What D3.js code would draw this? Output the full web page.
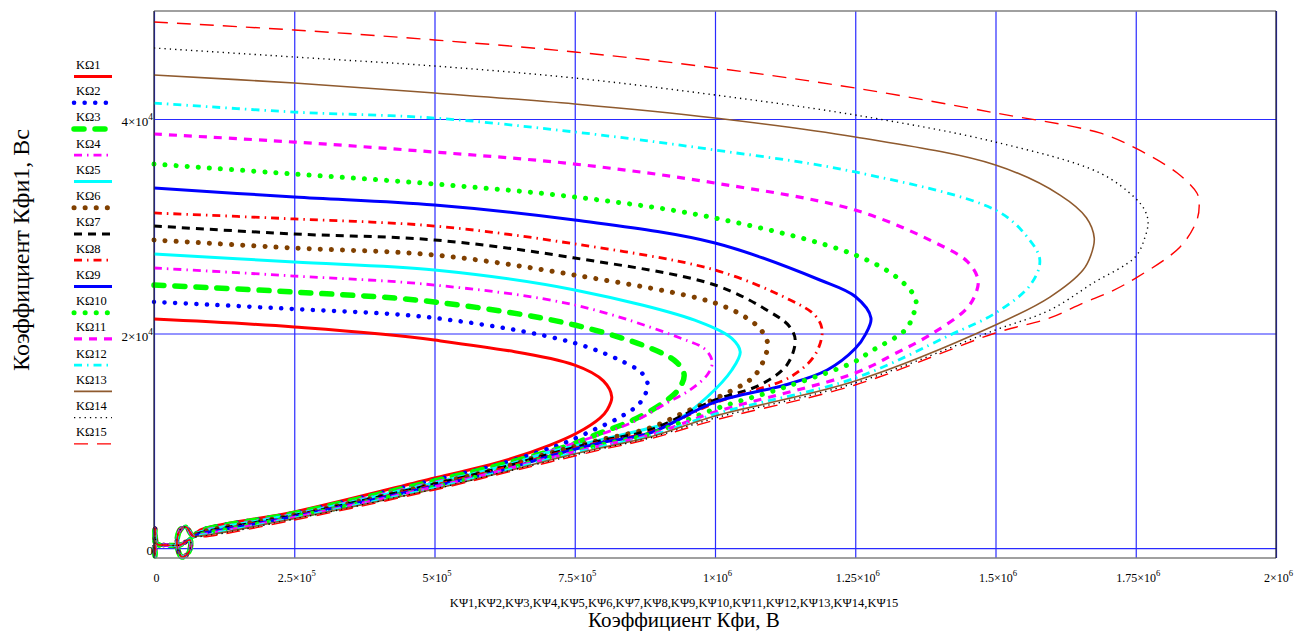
<!DOCTYPE html>
<html>
<head>
<meta charset="utf-8">
<script src="https://cdn.jsdelivr.net/npm/d3@7"></script>
<style>
  body { margin: 0; background: #fff; }
  svg { display: block; }
  text { font-family: "Liberation Serif", "Times New Roman", serif; fill: #000; }
</style>
</head>
<body>
<svg width="1307" height="631"></svg>
<script>
// curve points: [Кфи, Кфи1], upper branch -> nose -> lower branch
var kf1 = [[0,21350],[250000,20610],[500000,19390],[750000,17060],[801000,15580],[816000,14080],[808000,12900],[795000,12120],[754000,10720],[706000,9600],[617000,8020],[500000,6530],[250000,3360],[82000,1680]];
var kf2 = [[0,22940],[250000,22280],[500000,21450],[750000,19110],[848000,17060],[870000,16300],[880000,15200],[866000,13520],[831000,12210],[783000,11000],[736000,9880],[706000,9320],[617000,7830],[500000,6340],[250000,3260],[82000,1630]];
var kf3 = [[0,24520],[250000,23870],[500000,22940],[750000,20790],[893000,18460],[932000,17300],[945000,16130],[934000,14730],[907000,13520],[854000,11930],[795000,10720],[742000,9600],[617000,7740],[500000,6250],[250000,3220],[82000,1590]];
var kf4 = [[0,26110],[250000,25360],[500000,24520],[750000,22660],[938000,19580],[983000,18500],[995000,17340],[987000,16200],[955000,14730],[914000,13520],[854000,11750],[777000,10260],[706000,9040],[617000,7550],[500000,6150],[250000,3170],[82000,1540]];
var kf5 = [[0,27410],[250000,26670],[500000,25920],[750000,24060],[973000,21070],[1030000,19550],[1045000,18280],[1030000,16600],[986000,14080],[932000,11930],[884000,11190],[795000,10070],[706000,8950],[617000,7550],[500000,6060],[250000,3120],[82000,1490]];
var kf6 = [[0,28720],[250000,27970],[500000,27320],[750000,25450],[1000000,22840],[1062000,21260],[1084000,20200],[1094000,18930],[1078000,16600],[1062000,15660],[1003000,13990],[943000,12590],[884000,11190],[795000,10070],[706000,8860],[617000,7460],[500000,5970],[250000,3080],[82000,1450]];
var kf7 = [[0,30020],[250000,29280],[500000,28720],[750000,27040],[1000000,24520],[1098000,22010],[1132000,20700],[1143000,19390],[1128000,17060],[1080000,15200],[1000000,13800],[884000,11000],[795000,9980],[706000,8770],[617000,7460],[500000,5970],[250000,3030],[82000,1400]];
var kf8 = [[0,31240],[250000,30680],[500000,30020],[750000,28350],[1000000,25920],[1134000,23120],[1178000,21700],[1191000,20330],[1178000,17990],[1134000,15940],[1070000,14700],[1000000,13520],[884000,10820],[795000,9880],[706000,8670],[617000,7370],[500000,5870],[250000,2980],[82000,1350]];
var kf9 = [[0,33570],[250000,32730],[500000,31980],[750000,30580],[1000000,28440],[1187000,24990],[1250000,23450],[1278000,21450],[1268000,19900],[1250000,18600],[1200000,16600],[1125000,15200],[1000000,13600],[884000,10720],[795000,9790],[706000,8580],[617000,7180],[500000,5780],[250000,2940],[82000,1300]];
var kf10 = [[0,35800],[250000,34870],[500000,33940],[750000,32730],[1000000,30770],[1250000,27320],[1330000,24990],[1358000,23120],[1353000,21700],[1339000,20330],[1276000,18280],[1250000,17400],[1125000,15000],[1000000,12960],[884000,10630],[795000,9600],[706000,8490],[617000,7180],[500000,5690],[250000,2890],[82000,1260]];
var kf11 = [[0,38600],[250000,37850],[500000,36920],[750000,35800],[1000000,34030],[1250000,31510],[1401000,28250],[1450000,26700],[1469000,24990],[1463000,23500],[1446000,22190],[1383000,19860],[1320000,18100],[1250000,16320],[1000000,12680],[884000,10540],[795000,9510],[706000,8390],[617000,7180],[500000,5690],[250000,2840],[82000,1210]];
var kf12 = [[0,41490],[250000,40650],[500000,40090],[750000,38790],[1000000,37110],[1250000,35060],[1500000,31510],[1555000,29100],[1579000,26850],[1562000,24520],[1500000,21910],[1419000,19860],[1250000,15850],[1000000,12490],[884000,10440],[795000,9420],[706000,8300],[617000,7090],[500000,5590],[250000,2800],[82000,1170]];
var kf13 = [[0,44100],[250000,43360],[500000,42420],[750000,41400],[1000000,40090],[1250000,38320],[1500000,35710],[1615000,32910],[1662000,30800],[1676000,28900],[1670000,27300],[1656000,25920],[1597000,23400],[1500000,20790],[1250000,15570],[1000000,12310],[884000,10350],[795000,9320],[706000,8210],[617000,6990],[500000,5500],[250000,2750],[82000,1120]];
var kf14 = [[0,46620],[250000,45780],[500000,44940],[750000,43820],[1000000,42240],[1250000,40370],[1500000,37850],[1686000,34970],[1749000,32630],[1766000,31500],[1772000,30400],[1766000,28900],[1749000,27130],[1674000,24710],[1597000,22190],[1500000,20330],[1250000,15390],[1000000,12120],[884000,10260],[795000,9230],[706000,8110],[617000,6990],[500000,5500],[250000,2700],[82000,1070]];
var kf15 = [[0,49040],[250000,48300],[500000,47370],[750000,46250],[1000000,44760],[1250000,42890],[1500000,40560],[1686000,38700],[1749000,37300],[1824000,34960],[1859000,33100],[1863000,32170],[1859000,30580],[1829000,28070],[1750000,25170],[1704000,23870],[1656000,22840],[1597000,21450],[1500000,20050],[1250000,15200],[1000000,11930],[884000,10170],[795000,9140],[706000,8020],[617000,6900],[500000,5410],[250000,2610],[82000,1020]];
// the little knot every curve makes near the origin
var originLoop = [[69500,1120],[57000,1960],[46300,1680],[41000,280],[49900,-840],[62400,-370],[64200,750],[46300,280],[19600,280],[5300,370],[1800,1860],[1800,-750],[0,280]];

var legendNames = ["KΩ1","KΩ2","KΩ3","KΩ4","KΩ5","KΩ6","KΩ7","KΩ8","KΩ9","KΩ10","KΩ11","KΩ12","KΩ13","KΩ14","KΩ15"];
var xTicks = [0, 250000, 500000, 750000, 1000000, 1250000, 1500000, 1750000, 2000000];
var xTickText = [["0",""],["2.5×10","5"],["5×10","5"],["7.5×10","5"],["1×10","6"],["1.25×10","6"],["1.5×10","6"],["1.75×10","6"],["2×10","6"]];
var yTicks = [0, 20000, 40000];
var yTickText = [["0",""],["2×10","4"],["4×10","4"]];
var xSeriesLabel = "KΨ1,KΨ2,KΨ3,KΨ4,KΨ5,KΨ6,KΨ7,KΨ8,KΨ9,KΨ10,KΨ11,KΨ12,KΨ13,KΨ14,KΨ15";
var xTitle = "Коэффициент Кфи, В";
var yTitle = "Коэффициент Кфи1, Вс";

var series = [kf1,kf2,kf3,kf4,kf5,kf6,kf7,kf8,kf9,kf10,kf11,kf12,kf13,kf14,kf15];

// line looks, same order as the series
var styles = [
  {c:"#ff0000", w:3,   d:null},
  {c:"#0000ff", w:4.5, d:"0.1 10.5", cap:"round"},
  {c:"#00ff00", w:5.5, d:"10 11", cap:"round"},
  {c:"#ff00ff", w:2.8, d:"8 5 1.5 5"},
  {c:"#00ffff", w:3,   d:null},
  {c:"#804000", w:5,   d:"0.1 11", cap:"round"},
  {c:"#000000", w:3,   d:"8 6"},
  {c:"#ff0000", w:2.8, d:"8 5 1.5 5"},
  {c:"#0000ff", w:3,   d:null},
  {c:"#00ff00", w:5,   d:"0.1 11", cap:"round"},
  {c:"#ff00ff", w:3.2, d:"8 7"},
  {c:"#00ffff", w:2.8, d:"8 5 1.5 5"},
  {c:"#8f5a2e", w:1.6, d:null},
  {c:"#000000", w:1.4, d:"1.3 4"},
  {c:"#ff0000", w:1.4, d:"14 9"}
];

var plotL = 154, plotR = 1276, plotT = 11, plotB = 558;

var svg = d3.select("svg");

var x = d3.scaleLinear().domain([0, 2000000]).range([plotL, plotR]);
var y = d3.scaleLinear().domain([-930, 50070]).range([plotB, plotT]);

// grid
var gx = svg.append("g").attr("transform", "translate(0," + plotB + ")")
  .call(d3.axisBottom(x).tickValues(xTicks).tickSize(-(plotB - plotT)).tickFormat(""));
var gy = svg.append("g").attr("transform", "translate(" + plotL + ",0)")
  .call(d3.axisLeft(y).tickValues(yTicks).tickSize(-(plotR - plotL)).tickFormat(""));
[gx, gy].forEach(function(g){
  g.select(".domain").remove();
  g.selectAll("line").attr("stroke", "#2a2aff").attr("stroke-width", 1.2);
});

// curves
var line = d3.line()
  .x(function(d){ return x(d[0]); })
  .y(function(d){ return y(d[1]); })
  .curve(d3.curveCatmullRom.alpha(0.5));

var plot = svg.append("g");
series.forEach(function(s, i){
  var st = styles[i];
  plot.append("path")
    .attr("d", line(s.concat(originLoop)))
    .attr("fill", "none")
    .attr("stroke", st.c)
    .attr("stroke-width", st.w)
    .attr("stroke-dasharray", st.d)
    .attr("stroke-linecap", st.cap || "butt")
    .attr("stroke-linejoin", "round");
});

// frame
svg.append("line").attr("x1", plotL).attr("x2", plotR).attr("y1", plotT).attr("y2", plotT).attr("stroke", "#808080").attr("stroke-width", 1.5);
svg.append("line").attr("x1", plotL).attr("x2", plotR).attr("y1", plotB).attr("y2", plotB).attr("stroke", "#808080").attr("stroke-width", 1.5);
svg.append("line").attr("x1", plotL).attr("x2", plotL).attr("y1", plotT).attr("y2", plotB).attr("stroke", "#202020").attr("stroke-width", 1.2);
svg.append("line").attr("x1", plotR).attr("x2", plotR).attr("y1", plotT).attr("y2", plotB).attr("stroke", "#202020").attr("stroke-width", 1.2);

// tick labels
function powLabel(sel, parts, size){
  sel.text(null);
  sel.append("tspan").text(parts[0]);
  if (parts[1]) sel.append("tspan").attr("dy", -size * 0.45).attr("font-size", size * 0.72).text(parts[1]);
}
var lx = svg.append("g").attr("transform", "translate(2," + (plotB + 7) + ")")
  .call(d3.axisBottom(x).tickValues(xTicks).tickSize(0).tickPadding(8));
lx.select(".domain").remove();
lx.selectAll("text").attr("font-size", 12).attr("font-family", "Liberation Serif, serif").attr("fill", "#1a1a1a")
  .each(function(d, i){ powLabel(d3.select(this), xTickText[i], 12); });

var ly = svg.append("g").attr("transform", "translate(" + (plotL - 1) + ",0)")
  .call(d3.axisLeft(y).tickValues(yTicks).tickSize(0).tickPadding(0));
ly.select(".domain").remove();
ly.selectAll("text").attr("font-size", 13).attr("font-family", "Liberation Serif, serif").attr("fill", "#1a1a1a").attr("dy", "0.5em")
  .each(function(d, i){ powLabel(d3.select(this), yTickText[i], 13); });

// axis names
svg.append("text").attr("x", 674).attr("y", 607).attr("text-anchor", "middle").attr("font-size", 12.5).text(xSeriesLabel);
svg.append("text").attr("x", 684).attr("y", 627).attr("text-anchor", "middle").attr("font-size", 21).text(xTitle);
svg.append("text").attr("transform", "translate(29,250) rotate(-90)").attr("text-anchor", "middle").attr("font-size", 24).text(yTitle);

// legend
var leg = svg.append("g");
legendNames.forEach(function(name, i){
  var st = styles[i];
  var ty = 65 + i * 26.24;
  leg.append("text").attr("x", 76).attr("y", ty + 4).attr("font-size", 12.5).text(name);
  leg.append("line").attr("x1", 74).attr("x2", 112).attr("y1", ty + 11.5).attr("y2", ty + 11.5)
    .attr("stroke", st.c).attr("stroke-width", st.w)
    .attr("stroke-dasharray", st.d).attr("stroke-linecap", st.cap || "butt");
});
</script>
</body>
</html>
